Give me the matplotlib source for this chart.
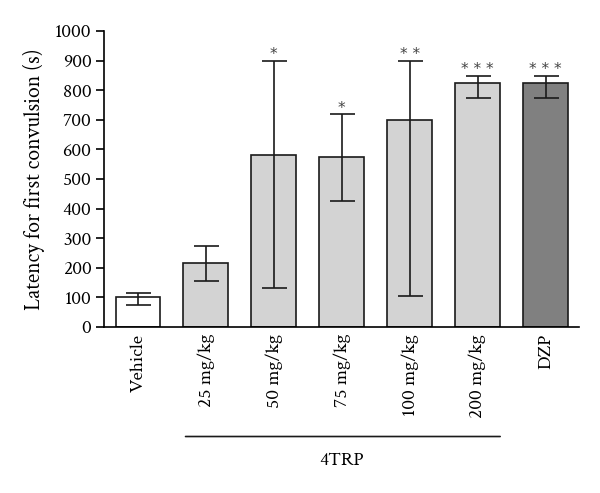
import matplotlib
matplotlib.use("Agg")
import matplotlib.pyplot as plt

plt.rcParams['font.family'] = ['Crimson Text', 'Liberation Serif', 'DejaVu Serif']

categories = ["Vehicle", "25 mg/kg", "50 mg/kg", "75 mg/kg", "100 mg/kg", "200 mg/kg", "DZP"]
means = [102, 216, 580, 575, 698, 824, 824]
err_low = [29, 60, 449, 149, 593, 49, 49]
err_high = [14, 59, 320, 145, 202, 25, 25]
stars = ["", "", "*", "*", "**", "***", "***"]
colors = ["white", "#d3d3d3", "#d3d3d3", "#d3d3d3", "#d3d3d3", "#d3d3d3", "#808080"]
group_label = "4TRP"
yticks = [0, 100, 200, 300, 400, 500, 600, 700, 800, 900, 1000]

fs = 14

fig = plt.figure(figsize=(6, 4.93), dpi=100)
ax = fig.add_axes([0.1733, 0.3367, 0.7917, 0.6003])
x = list(range(len(categories)))
ax.bar(x, means, width=0.66, color=colors, edgecolor="#1a1a1a", linewidth=1.2, zorder=2)
ax.errorbar(x, means, yerr=[err_low, err_high], fmt="none", ecolor="#1a1a1a",
            elinewidth=1.2, capsize=9, capthick=1.2, zorder=3)
for xi, m, eh, s in zip(x, means, err_high, stars):
    if s:
        ax.text(xi, m + eh + 20, " ".join(s), ha="center", va="center",
                fontsize=11, color="#444444", family=["DejaVu Sans"])

ax.set_xlim(-0.5, 6.49)
ax.set_ylim(0, 1000)
ax.set_yticks(yticks)
ax.set_yticklabels([str(t) for t in yticks], fontsize=fs)
ax.set_xticks(x)
ax.set_xticklabels(categories, rotation=90, fontsize=fs)
ax.tick_params(axis="x", length=0, pad=5)
ax.tick_params(axis="y", length=6, width=1.2, direction="out", pad=3)
ax.spines["top"].set_visible(False)
ax.spines["right"].set_visible(False)
ax.spines["left"].set_linewidth(1.2)
ax.spines["bottom"].set_linewidth(1.2)
ax.set_ylabel("Latency for first convulsion (s)", fontsize=15.7, labelpad=7)

# group line and label
ax.annotate("", xy=(0.7, -0.37), xytext=(5.33, -0.37), xycoords=("data", "axes fraction"),
            textcoords=("data", "axes fraction"),
            arrowprops=dict(arrowstyle="-", lw=1.2, color="#1a1a1a", shrinkA=0, shrinkB=0))
ax.text(3.0, -0.45, group_label, transform=ax.get_xaxis_transform(), ha="center", va="center",
        fontsize=fs)

fig.savefig("out.png", dpi=100)
